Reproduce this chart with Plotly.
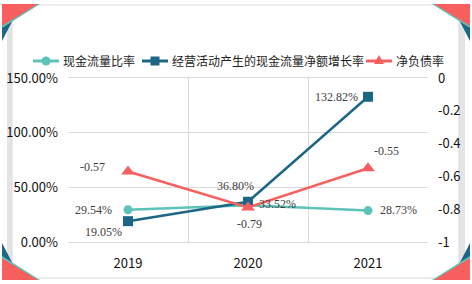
import plotly.graph_objects as go

years = ["2019", "2020", "2021"]
cash_ratio = [29.54, 33.52, 28.73]
op_growth = [19.05, 36.80, 132.82]
net_debt = [-0.57, -0.79, -0.55]
series_names = ["现金流量比率", "经营活动产生的现金流量净额增长率", "净负债率"]

W, H = 472, 284
L, R, T, B = 68, 428, 78, 242

def px(x):
    return (x - L) / (R - L)

def py(y):
    return (B - y) / (B - T)

def poly(pts, color, layer="below"):
    path = "M " + " L ".join(f"{px(x):.4f},{py(y):.4f}" for x, y in pts) + " Z"
    return dict(type="path", xref="paper", yref="paper", path=path,
                fillcolor=color, line=dict(width=0), layer=layer)

TEAL = "#5DC3B9"
BLUE = "#1D6786"
RED = "#F8605F"
COLORS = [TEAL, BLUE, RED]
label_font = dict(family="Liberation Serif, Times New Roman, serif", size=12, color="#404040")

fig = go.Figure()
fig.add_trace(go.Scatter(
    x=years, y=cash_ratio, name=series_names[0], mode="lines+markers",
    line=dict(color=TEAL, width=2.5), marker=dict(symbol="circle", size=9, color=TEAL),
    yaxis="y", showlegend=False))
fig.add_trace(go.Scatter(
    x=years, y=op_growth, name=series_names[1], mode="lines+markers",
    line=dict(color=BLUE, width=2.5), marker=dict(symbol="square", size=10, color=BLUE),
    yaxis="y", showlegend=False))
fig.add_trace(go.Scatter(
    x=years, y=net_debt, name=series_names[2], mode="lines+markers",
    line=dict(color=RED, width=2.5), marker=dict(symbol="triangle-up", size=12, color=RED),
    yaxis="y2", showlegend=False))

# data labels (offsets in pixels from each point)
annotations = []
cash_off = [(-35, 0), (29, 1), (30, 1)]
growth_off = [(-25, -11), (-13, 16), (-32, 0)]
debt_off = [(-36, 4), (1, -16), (18, 17)]
for i, yr in enumerate(years):
    for vals, offs, yref, fmt in [
        (cash_ratio, cash_off, "y", "{:.2f}%"),
        (op_growth, growth_off, "y", "{:.2f}%"),
        (net_debt, debt_off, "y2", "{:.2f}"),
    ]:
        annotations.append(dict(x=i, y=vals[i], xref="x", yref=yref,
                                text=fmt.format(vals[i]), showarrow=False,
                                xshift=offs[i][0], yshift=offs[i][1],
                                font=label_font))

# legend (drawn manually)
legend_x = [33, 142, 366]
legend_y = 61
shapes = []
for name, c, lx, sym in zip(series_names, COLORS, legend_x, ["circle", "square", "triangle"]):
    shapes.append(dict(type="line", xref="paper", yref="paper",
                       x0=px(lx), x1=px(lx + 26), y0=py(legend_y), y1=py(legend_y),
                       line=dict(color=c, width=3), layer="above"))
    cx = lx + 13
    if sym == "circle":
        shapes.append(dict(type="circle", xref="paper", yref="paper",
                           x0=px(cx - 4.5), x1=px(cx + 4.5), y0=py(legend_y + 4.5), y1=py(legend_y - 4.5),
                           fillcolor=c, line=dict(width=0), layer="above"))
    elif sym == "square":
        shapes.append(dict(type="rect", xref="paper", yref="paper",
                           x0=px(cx - 4.5), x1=px(cx + 4.5), y0=py(legend_y + 4.5), y1=py(legend_y - 4.5),
                           fillcolor=c, line=dict(width=0), layer="above"))
    else:
        shapes.append(poly([(cx - 5, legend_y + 3), (cx + 5, legend_y + 3), (cx, legend_y - 6)], c, "above"))
    annotations.append(dict(x=px(lx + 28), y=py(legend_y), xref="paper", yref="paper",
                            xanchor="left", yanchor="middle", text=name, showarrow=False,
                            font=dict(family="Noto Sans CJK SC", size=12, color="#222222")))

# card frame
shapes.append(dict(type="rect", xref="paper", yref="paper",
                   x0=px(7), x1=px(13), y0=py(279), y1=py(6),
                   fillcolor="#E4E4E4", line=dict(width=0), layer="below"))
shapes.append(dict(type="rect", xref="paper", yref="paper",
                   x0=px(458), x1=px(465), y0=py(279), y1=py(6),
                   fillcolor="#E4E4E4", line=dict(width=0), layer="below"))
shapes.append(dict(type="rect", xref="paper", yref="paper",
                   x0=px(12), x1=px(459), y0=py(278), y1=py(5),
                   fillcolor="white", line=dict(color="#DADADA", width=1), layer="below"))
shapes += [
    poly([(2, 22), (15, 16), (2, 41)], BLUE),
    poly([(40, 4), (2, 28), (2, 24), (34, 4)], TEAL),
    poly([(2, 4), (38, 4), (2, 26)], RED),
    poly([(470, 22), (457, 16), (470, 41)], BLUE),
    poly([(432, 4), (470, 28), (470, 24), (438, 4)], TEAL),
    poly([(470, 4), (434, 4), (470, 26)], RED),
    poly([(2, 262), (15, 268), (2, 243)], BLUE),
    poly([(40, 280), (2, 256), (2, 260), (34, 280)], TEAL),
    poly([(2, 280), (38, 280), (2, 258)], RED),
    poly([(470, 262), (457, 268), (470, 243)], BLUE),
    poly([(432, 280), (470, 256), (470, 260), (438, 280)], TEAL),
    poly([(470, 280), (434, 280), (470, 258)], RED),
]

tick_font = dict(family="Noto Sans CJK SC", size=13, color="#111111")

fig.update_layout(
    width=W, height=H,
    margin=dict(l=L, r=W - R, t=T, b=H - B, autoexpand=False),
    paper_bgcolor="white", plot_bgcolor="white",
    shapes=shapes, annotations=annotations,
    showlegend=False,
    xaxis=dict(type="category", range=[-0.5, 2.5], tickson="boundaries",
               showgrid=True, gridcolor="#D9D9D9",
               showline=True, linecolor="#D9D9D9", mirror=True, ticks="",
               tickfont=tick_font, ticklabelstandoff=9, zeroline=False, automargin=False),
    yaxis=dict(range=[0, 150], tickvals=[0, 50, 100, 150],
               ticktext=["0.00%", "50.00%", "100.00%", "150.00%"],
               showgrid=True, gridcolor="#D9D9D9", zeroline=False,
               tickfont=tick_font, ticklabelstandoff=9, ticks="", automargin=False),
    yaxis2=dict(range=[-1, 0], overlaying="y", side="right",
                tickvals=[0, -0.2, -0.4, -0.6, -0.8, -1],
                ticktext=["0", "-0.2", "-0.4", "-0.6", "-0.8", "-1"],
                showgrid=False, zeroline=False, tickfont=tick_font,
                ticklabelstandoff=9, ticks="", automargin=False),
)

fig.write_html("out.html", config={"displayModeBar": False},
               post_script="document.body.style.margin='0';document.body.style.overflow='hidden';")
